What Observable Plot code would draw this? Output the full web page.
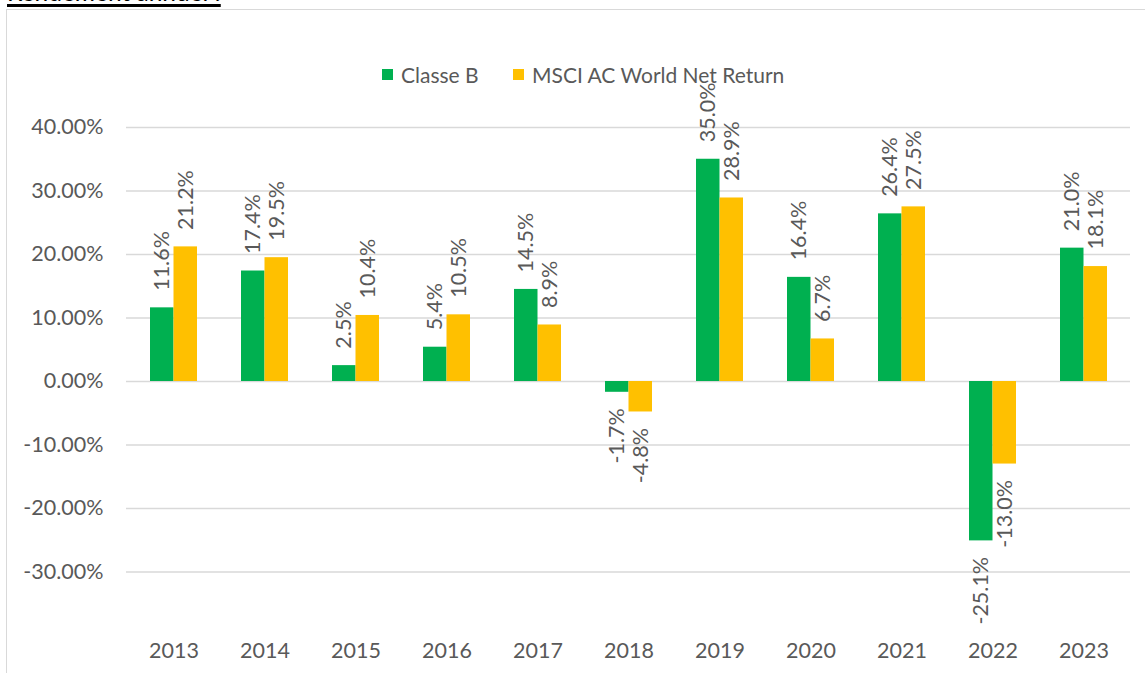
<!DOCTYPE html>
<html><head><meta charset="utf-8">
<script src="https://cdn.jsdelivr.net/npm/d3@7"></script>
<script src="https://cdn.jsdelivr.net/npm/@observablehq/plot@0.6"></script>
<style>
body{margin:0;background:#fff;font-family:Lato,"Noto Sans",sans-serif}
#wrap{position:relative;width:1145px;height:673px;overflow:hidden;background:#fff}
#title{position:absolute;left:7px;top:-20.5px;font-size:24.5px;line-height:24px;color:#000;white-space:nowrap;text-decoration:underline;text-decoration-thickness:2.5px;text-underline-offset:3px}
#box{position:absolute;left:6px;top:9px;width:1200px;height:700px;border:1.5px solid #d9d9d9;box-sizing:border-box}
#chart{position:absolute;left:0;top:0}
.leg{position:absolute;top:62px;height:24px;display:flex;align-items:center;font-size:21px;color:#595959;white-space:nowrap}
.leg i{display:inline-block;width:11px;height:11px;margin-right:8px}
</style></head>
<body>
<div id="wrap">
  <div id="box"></div>
  <div id="title">Rendement annuel :</div>
  <div id="chart"></div>
  <div id="legend"></div>
</div>
<script>
const years = ["2013","2014","2015","2016","2017","2018","2019","2020","2021","2022","2023"];
const classeB = [11.6, 17.4, 2.5, 5.4, 14.5, -1.7, 35.0, 16.4, 26.4, -25.1, 21.0];
const msci = [21.2, 19.5, 10.4, 10.5, 8.9, -4.8, 28.9, 6.7, 27.5, -13.0, 18.1];
const seriesNames = ["Classe B", "MSCI AC World Net Return"];
const seriesColors = ["#00B050", "#FFC000"];
const yTicks = [-30, -20, -10, 0, 10, 20, 30, 40];

const dataB = years.map((year, i) => ({year, series: seriesNames[0], value: classeB[i]}));
const dataM = years.map((year, i) => ({year, series: seriesNames[1], value: msci[i]}));

const fmt = d => d.value.toFixed(1) + "%";
const textStyle = {fontSize: 21.5, fill: "#595959", rotate: -90};

const chart = Plot.plot({
  width: 1145,
  height: 673,
  marginLeft: 126,
  marginRight: 15,
  marginTop: 127,
  marginBottom: 38,
  style: {fontFamily: "Lato, 'Noto Sans', sans-serif", fontSize: "21.5px", color: "#595959", background: "transparent"},
  x: {domain: years, paddingInner: 0.485, paddingOuter: 0.2425, label: null, tickSize: 0, tickPadding: 7},
  y: {domain: [-40, 40], ticks: yTicks, tickFormat: d => d.toFixed(2) + "%", label: null, tickSize: 0, tickPadding: 23},
  marks: [
    Plot.ruleY(yTicks, {stroke: "#d9d9d9", strokeWidth: 1.5}),
    Plot.barY(dataB, {x: "year", y: "value", fill: seriesColors[0], insetRight: 23.5}),
    Plot.barY(dataM, {x: "year", y: "value", fill: seriesColors[1], insetLeft: 23.5}),
    Plot.text(dataB.filter(d => d.value >= 0), {x: "year", y: "value", text: fmt, dx: -11.75, dy: -17, textAnchor: "start", ...textStyle}),
    Plot.text(dataB.filter(d => d.value < 0), {x: "year", y: "value", text: fmt, dx: -11.75, dy: 16, textAnchor: "end", ...textStyle}),
    Plot.text(dataM.filter(d => d.value >= 0), {x: "year", y: "value", text: fmt, dx: 11.75, dy: -17, textAnchor: "start", ...textStyle}),
    Plot.text(dataM.filter(d => d.value < 0), {x: "year", y: "value", text: fmt, dx: 11.75, dy: 16, textAnchor: "end", ...textStyle})
  ]
});
document.getElementById("chart").appendChild(chart);

const legend = document.getElementById("legend");
const legLeft = [382, 513];
seriesNames.forEach((name, i) => {
  const el = document.createElement("div");
  el.className = "leg";
  el.style.left = legLeft[i] + "px";
  el.innerHTML = `<i style="background:${seriesColors[i]}"></i><span>${name}</span>`;
  legend.appendChild(el);
});
</script>
</body></html>
